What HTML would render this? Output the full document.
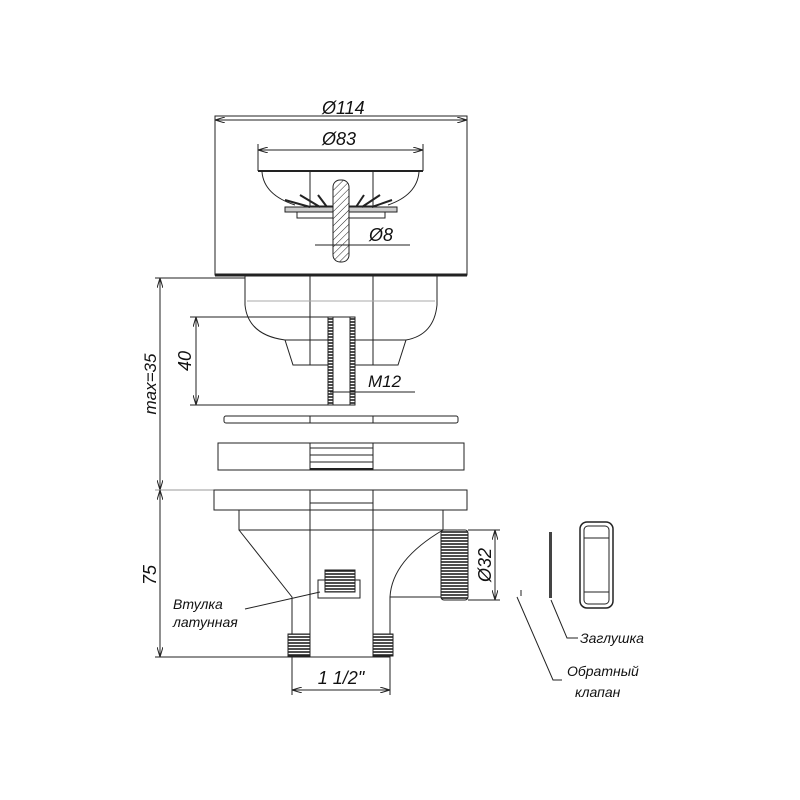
<!DOCTYPE html>
<html><head><meta charset="utf-8"><style>
html,body{margin:0;padding:0;background:#fff}
svg{display:block}
text{font-family:"Liberation Sans",sans-serif;font-style:italic;fill:#111}
</style></head><body>
<svg width="800" height="800" viewBox="0 0 800 800" xmlns="http://www.w3.org/2000/svg">
<defs>
<pattern id="h" width="5" height="5" patternUnits="userSpaceOnUse" patternTransform="rotate(45)">
<rect width="5" height="5" fill="#fff"/><line x1="0" y1="0" x2="0" y2="5" stroke="#222" stroke-width="1"/></pattern>
<pattern id="th" width="3" height="3" patternUnits="userSpaceOnUse"><rect width="3" height="3" fill="#fff"/><line x1="0" y1="1" x2="3" y2="1" stroke="#222" stroke-width="1.6"/></pattern>
<marker id="a" markerWidth="10" markerHeight="6" refX="10" refY="3" orient="auto-start-reverse" markerUnits="userSpaceOnUse"><path d="M0,0 L10,3 L0,6" fill="none" stroke="#222"/></marker>
</defs>
<g stroke="#222" fill="none" stroke-width="1">
<rect x="215" y="116" width="252" height="159"/>
<line x1="215" y1="275" x2="467" y2="275" stroke-width="3"/>
<line x1="215" y1="120" x2="467" y2="120" marker-start="url(#a)" marker-end="url(#a)"/>
<line x1="258" y1="144" x2="258" y2="171"/><line x1="423" y1="144" x2="423" y2="171"/>
<line x1="258" y1="150" x2="423" y2="150" marker-start="url(#a)" marker-end="url(#a)"/>
<line x1="258" y1="171" x2="423" y2="171" stroke-width="2"/>
<path d="M262,172 Q264,195 295,205 M419,172 Q417,195 388,205"/>
<rect x="310" y="171" width="63" height="35"/>
<rect x="285" y="207" width="112" height="5" fill="#ccc"/>
<rect x="297" y="212" width="88" height="6"/>
<path d="M285,200 L310,207 M300,195 L320,207 M318,195 L327,207 M392,200 L372,207 M380,195 L362,207 M364,195 L356,207" stroke-width="2"/>
<rect x="333" y="180" width="16" height="82" rx="7" fill="url(#h)"/>
<line x1="315" y1="245" x2="410" y2="245"/>
<path d="M245,276 L245,305 Q248,335 285,340 L293,365 L328,365 M355,365 L398,365 L406,340 Q434,335 437,305 L437,276"/>
<line x1="310" y1="276" x2="310" y2="365"/><line x1="373" y1="276" x2="373" y2="365"/>
<line x1="247" y1="301" x2="435" y2="301" stroke="#aaa"/>
<line x1="285" y1="340" x2="406" y2="340"/>
<rect x="328" y="317" width="27" height="88" fill="url(#th)"/>
<rect x="333" y="317" width="17" height="88" fill="#fff"/>
<line x1="190" y1="317" x2="330" y2="317"/><line x1="190" y1="405" x2="330" y2="405"/>
<line x1="196" y1="317" x2="196" y2="405" marker-start="url(#a)" marker-end="url(#a)"/>
<line x1="330" y1="392" x2="415" y2="392"/>
<rect x="224" y="416" width="234" height="7" rx="2"/>
<line x1="310" y1="416" x2="310" y2="423"/><line x1="373" y1="416" x2="373" y2="423"/>
<rect x="218" y="443" width="246" height="27"/>
<rect x="310" y="443" width="63" height="27"/>
<line x1="310" y1="448" x2="373" y2="448"/><line x1="310" y1="455" x2="373" y2="455"/><line x1="310" y1="462" x2="373" y2="462"/>
<line x1="310" y1="469" x2="373" y2="469" stroke-width="2"/>
<line x1="155" y1="278" x2="245" y2="278"/>
<line x1="160" y1="278" x2="160" y2="490" marker-start="url(#a)" marker-end="url(#a)"/>
<line x1="155" y1="490" x2="214" y2="490" stroke="#999"/>
<rect x="214" y="490" width="253" height="20"/>
<line x1="310" y1="490" x2="310" y2="510"/><line x1="373" y1="490" x2="373" y2="510"/><line x1="310" y1="503" x2="373" y2="503"/>
<path d="M239,510 L239,530 L443,530 L443,510"/>
<path d="M239,530 L292,597 L292,657 L390,657 L390,597 Q392,560 443,530"/>
<line x1="390" y1="597" x2="441" y2="597"/>
<rect x="310" y="510" width="63" height="147"/>
<rect x="288" y="634" width="22" height="22" fill="url(#th)"/>
<rect x="373" y="634" width="20" height="22" fill="url(#th)"/>
<rect x="318" y="580" width="42" height="18" fill="#fff"/>
<rect x="325" y="570" width="30" height="22" fill="url(#th)"/>
<rect x="441" y="530" width="27" height="70" rx="3" fill="url(#th)"/>
<line x1="468" y1="530" x2="500" y2="530"/><line x1="468" y1="600" x2="500" y2="600"/>
<line x1="495" y1="530" x2="495" y2="600" marker-start="url(#a)" marker-end="url(#a)"/>
<line x1="155" y1="657" x2="292" y2="657"/>
<line x1="160" y1="490" x2="160" y2="657" marker-start="url(#a)" marker-end="url(#a)"/>
<line x1="292" y1="657" x2="292" y2="695"/><line x1="390" y1="657" x2="390" y2="695"/>
<line x1="292" y1="690" x2="390" y2="690" marker-start="url(#a)" marker-end="url(#a)"/>
<rect x="549" y="532" width="3" height="66" fill="#444" stroke="none"/>
<rect x="580" y="522" width="33" height="86" rx="7" stroke-width="1.5"/>
<rect x="584" y="526" width="25" height="78" rx="4"/>
<line x1="584" y1="538" x2="609" y2="538"/><line x1="584" y1="592" x2="609" y2="592"/>
<line x1="521" y1="590" x2="521" y2="596"/>
<path d="M245,609 L320,592"/>
<path d="M551,600 L567,638 L578,638"/>
<path d="M517,597 L553,680 L562,680"/>
</g>
<text x="322" y="114" font-size="18">Ø114</text>
<text x="322" y="145" font-size="18">Ø83</text>
<text x="369" y="241" font-size="18">Ø8</text>
<text x="368" y="387" font-size="17">M12</text>
<text x="191" y="361" font-size="18" transform="rotate(-90 191 361)" text-anchor="middle">40</text>
<text x="156" y="384" font-size="17" transform="rotate(-90 156 384)" text-anchor="middle">max=35</text>
<text x="156" y="575" font-size="18" transform="rotate(-90 156 575)" text-anchor="middle">75</text>
<text x="491" y="565" font-size="18" transform="rotate(-90 491 565)" text-anchor="middle">Ø32</text>
<text x="341" y="684" font-size="18" text-anchor="middle">1 1/2"</text>
<text x="173" y="609" font-size="14">Втулка</text>
<text x="173" y="627" font-size="14">латунная</text>
<text x="580" y="643" font-size="14">Заглушка</text>
<text x="567" y="676" font-size="14">Обратный</text>
<text x="575" y="697" font-size="14">клапан</text>
</svg>
</body></html>
